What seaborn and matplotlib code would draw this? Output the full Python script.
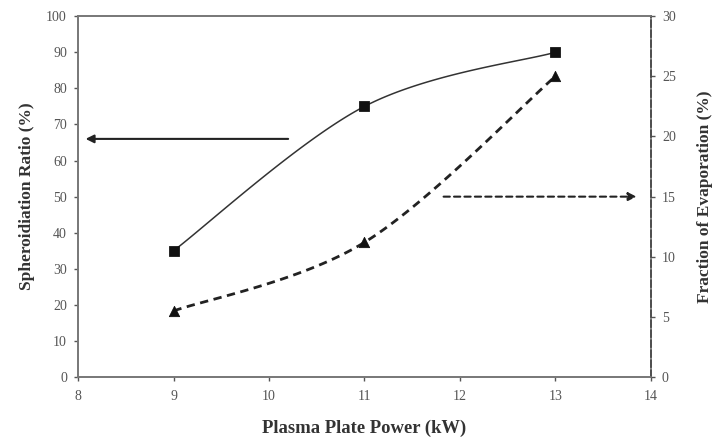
import numpy as np
import pandas as pd
import matplotlib
matplotlib.use("Agg")
import matplotlib.pyplot as plt
import seaborn as sns

# data
power_kw = [9, 11, 13]
spheroidization = [35, 75, 90]
evaporation = [5.5, 11.2, 25]


def smooth(xs, ys, n=60):
    # catmull-rom style smoothing, similar to excel "smoothed line"
    px = [xs[0]] + list(xs) + [xs[-1]]
    py = [ys[0]] + list(ys) + [ys[-1]]
    outx, outy = [], []
    t = np.linspace(0, 1, n)
    for i in range(1, len(px) - 2):
        p0, p1, p2, p3 = [np.array([px[j], py[j]], float) for j in (i - 1, i, i + 1, i + 2)]
        c1 = p1 + (p2 - p0) / 6
        c2 = p2 - (p3 - p1) / 6
        b = ((1 - t) ** 3)[:, None] * p1 + (3 * (1 - t) ** 2 * t)[:, None] * c1 \
            + (3 * (1 - t) * t ** 2)[:, None] * c2 + (t ** 3)[:, None] * p2
        outx.extend(b[:, 0])
        outy.extend(b[:, 1])
    return outx, outy


df = pd.DataFrame({"power": power_kw, "sph": spheroidization, "evap": evaporation})

sns.set_style("white")
plt.rcParams["font.family"] = ["Liberation Serif", "DejaVu Serif"]

fig = plt.figure(figsize=(7.16, 4.37), dpi=100)
ax = fig.add_axes([0.109, 0.137, 0.8, 0.826])
ax2 = ax.twinx()

sx, sy = smooth(power_kw, spheroidization)
ax.plot(sx, sy, color="#333333", lw=1.1)
sns.scatterplot(data=df, x="power", y="sph", marker="s", s=50, color="#111111",
                edgecolor="#111111", ax=ax, zorder=5)

ex, ey = smooth(power_kw, evaporation)
ax2.plot(ex, ey, color="#222222", lw=2, ls=(0, (3, 2)))
sns.scatterplot(data=df, x="power", y="evap", marker="^", s=55, color="#111111",
                edgecolor="#111111", ax=ax2, zorder=5)

ax.set_xlim(8, 14)
ax.set_ylim(0, 100)
ax2.set_ylim(0, 30)
ax.set_xticks(range(8, 15))
ax.set_yticks(range(0, 101, 10))
ax2.set_yticks(range(0, 31, 5))

# arrows pointing to the matching axis
ax.annotate("", xy=(8.05, 66), xytext=(10.23, 66),
            arrowprops=dict(arrowstyle="-|>", color="#222222", lw=1.5, mutation_scale=12))
ax2.annotate("", xy=(13.88, 15), xytext=(11.8, 15),
             arrowprops=dict(arrowstyle="-|>", color="#222222", lw=1.5, ls=(0, (3, 2)),
                             mutation_scale=12))

for a in (ax, ax2):
    for s in a.spines.values():
        s.set_color("#777777")
        s.set_linewidth(1.2)
ax2.spines["right"].set_linestyle((0, (4, 2)))
ax2.spines["right"].set_color("#444444")

tick_kw = dict(labelsize=10, colors="#555555", length=3, width=1, direction="out", pad=5)
ax.tick_params(axis="both", **tick_kw)
ax2.tick_params(axis="y", **tick_kw)
ax.tick_params(axis="x", pad=6)
ax.tick_params(axis="y", left=True)
ax.tick_params(axis="x", bottom=True)
ax2.tick_params(axis="y", right=True)

ax.set_xlabel("Plasma Plate Power (kW)", fontsize=13.4, fontweight="bold", color="#333333", labelpad=12)
ax.set_ylabel("Spheroidiation Ratio (%)", fontsize=12.5, fontweight="bold", color="#333333", labelpad=8)
ax2.set_ylabel("Fraction of Evaporation (%)", fontsize=12.5, fontweight="bold", color="#333333", labelpad=15)

fig.savefig("out.png", dpi=100)
